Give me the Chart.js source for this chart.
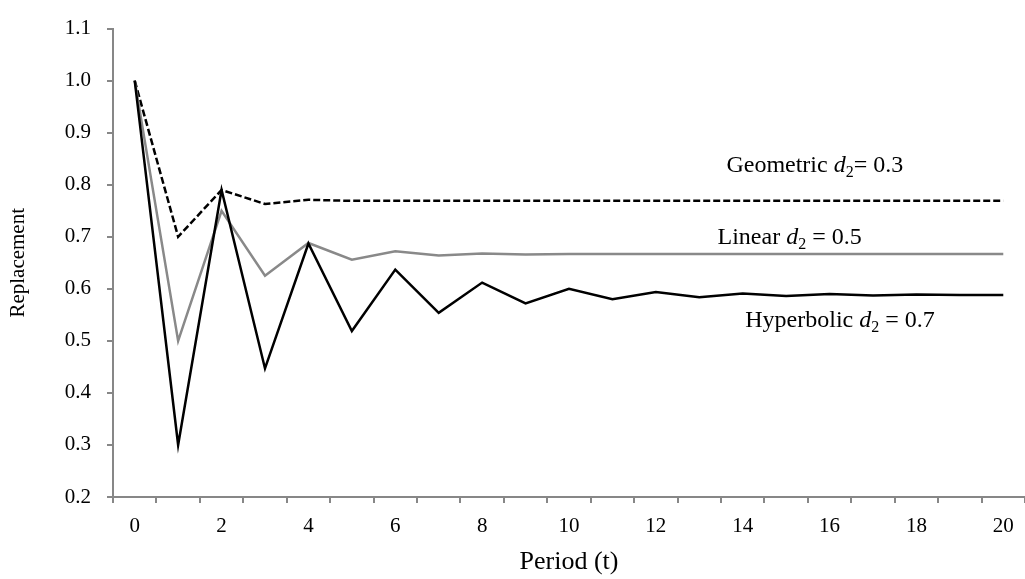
<!DOCTYPE html>
<html>
<head>
<meta charset="utf-8">
<script src="https://cdn.jsdelivr.net/npm/chart.js@4"></script>
<style>
  html, body { margin: 0; padding: 0; background: #fff; }
  #wrap { width: 1025px; height: 579px; }
</style>
</head>
<body>
<div id="wrap"><canvas id="chart"></canvas></div>
<script>
const periods = ['0', '1', '2', '3', '4', '5', '6', '7', '8', '9', '10',
                 '11', '12', '13', '14', '15', '16', '17', '18', '19', '20'];

const hyperbolic = [1.0, 0.30, 0.79, 0.447, 0.687, 0.519, 0.637, 0.554, 0.612, 0.572, 0.600,
                    0.580, 0.594, 0.584, 0.591, 0.586, 0.590, 0.587, 0.589, 0.588, 0.588];
const linear = [1.0, 0.50, 0.75, 0.625, 0.688, 0.656, 0.672, 0.664, 0.668, 0.666, 0.667,
                0.667, 0.667, 0.667, 0.667, 0.667, 0.667, 0.667, 0.667, 0.667, 0.667];
const geometric = [1.0, 0.70, 0.79, 0.763, 0.771, 0.769, 0.769, 0.769, 0.769, 0.769, 0.769,
                   0.769, 0.769, 0.769, 0.769, 0.769, 0.769, 0.769, 0.769, 0.769, 0.769];

const yTicks = [0.2, 0.3, 0.4, 0.5, 0.6, 0.7, 0.8, 0.9, 1.0, 1.1];

const serif = '"Liberation Serif", "Times New Roman", serif';
const axisGray = '#878787';

// labels next to the lines: name, d2 value, anchor in data units
const notes = [
    { name: 'Geometric ', tail: '= 0.3', x: 15.66, y: 0.824 },
    { name: 'Linear ', tail: ' = 0.5', x: 15.08, y: 0.686 },
    { name: 'Hyperbolic ', tail: ' = 0.7', x: 16.24, y: 0.527 }
];

const lineLabels = {
    id: 'lineLabels',
    afterDatasetsDraw(chart) {
        const ctx = chart.ctx;
        const xs = chart.scales.x, ys = chart.scales.y;
        const size = 24;
        ctx.save();
        ctx.fillStyle = '#000';
        ctx.textBaseline = 'alphabetic';
        ctx.textAlign = 'left';
        notes.forEach(n => {
            const parts = [
                { t: n.name, f: size + 'px ' + serif, dy: 0 },
                { t: 'd', f: 'italic ' + size + 'px ' + serif, dy: 0 },
                { t: '2', f: Math.round(size * 0.65) + 'px ' + serif, dy: 5 },
                { t: n.tail, f: size + 'px ' + serif, dy: 0 }
            ];
            let total = 0;
            parts.forEach(p => { ctx.font = p.f; p.w = ctx.measureText(p.t).width; total += p.w; });
            let x = xs.getPixelForValue(n.x) - total / 2;
            const y = ys.getPixelForValue(n.y);
            parts.forEach(p => {
                ctx.font = p.f;
                ctx.fillText(p.t, x, y + p.dy);
                x += p.w;
            });
        });
        ctx.restore();
    }
};

new Chart(document.getElementById('chart'), {
    type: 'line',
    data: {
        labels: periods,
        datasets: [
            {
                label: 'Hyperbolic d2 = 0.7',
                data: hyperbolic,
                borderColor: '#000',
                borderWidth: 2.5,
                pointRadius: 0,
                tension: 0
            },
            {
                label: 'Linear d2 = 0.5',
                data: linear,
                borderColor: '#898989',
                borderWidth: 2.5,
                pointRadius: 0,
                tension: 0
            },
            {
                label: 'Geometric d2 = 0.3',
                data: geometric,
                borderColor: '#000',
                borderWidth: 2.5,
                borderDash: [7, 3],
                pointRadius: 0,
                tension: 0
            }
        ]
    },
    options: {
        responsive: true,
        maintainAspectRatio: false,
        animation: false,
        layout: { padding: { top: 14, right: 0, bottom: 0, left: 0 } },
        plugins: {
            legend: { display: false },
            tooltip: { enabled: false }
        },
        scales: {
            x: {
                type: 'category',
                offset: true,
                afterFit(scale) { scale.height = 82; },
                grid: {
                    offset: true,
                    drawOnChartArea: false,
                    drawTicks: true,
                    tickLength: 6,
                    tickColor: axisGray,
                    lineWidth: 2
                },
                border: { color: axisGray, width: 2 },
                ticks: {
                    autoSkip: false,
                    maxRotation: 0,
                    padding: 11,
                    color: '#000',
                    font: { family: serif, size: 21 },
                    callback: function (val, i) {
                        return i % 2 === 0 ? this.getLabelForValue(val) : '';
                    }
                },
                title: {
                    display: true,
                    text: 'Period (t)',
                    color: '#000',
                    font: { family: serif, size: 26 },
                    padding: { top: 0, bottom: 1 }
                }
            },
            y: {
                min: 0.2,
                max: 1.1,
                afterFit(scale) { scale.width = 113; },
                afterBuildTicks(scale) { scale.ticks = yTicks.map(v => ({ value: v })); },
                grid: {
                    drawOnChartArea: false,
                    drawTicks: true,
                    tickLength: 6,
                    tickColor: axisGray,
                    lineWidth: 2
                },
                border: { color: axisGray, width: 2 },
                ticks: {
                    padding: 16,
                    color: '#000',
                    font: { family: serif, size: 21 },
                    callback: v => v.toFixed(1)
                },
                title: {
                    display: true,
                    text: 'Replacement',
                    color: '#000',
                    font: { family: serif, size: 21 },
                    padding: { top: 6, bottom: 0 }
                }
            }
        }
    },
    plugins: [lineLabels]
});
</script>
</body>
</html>
